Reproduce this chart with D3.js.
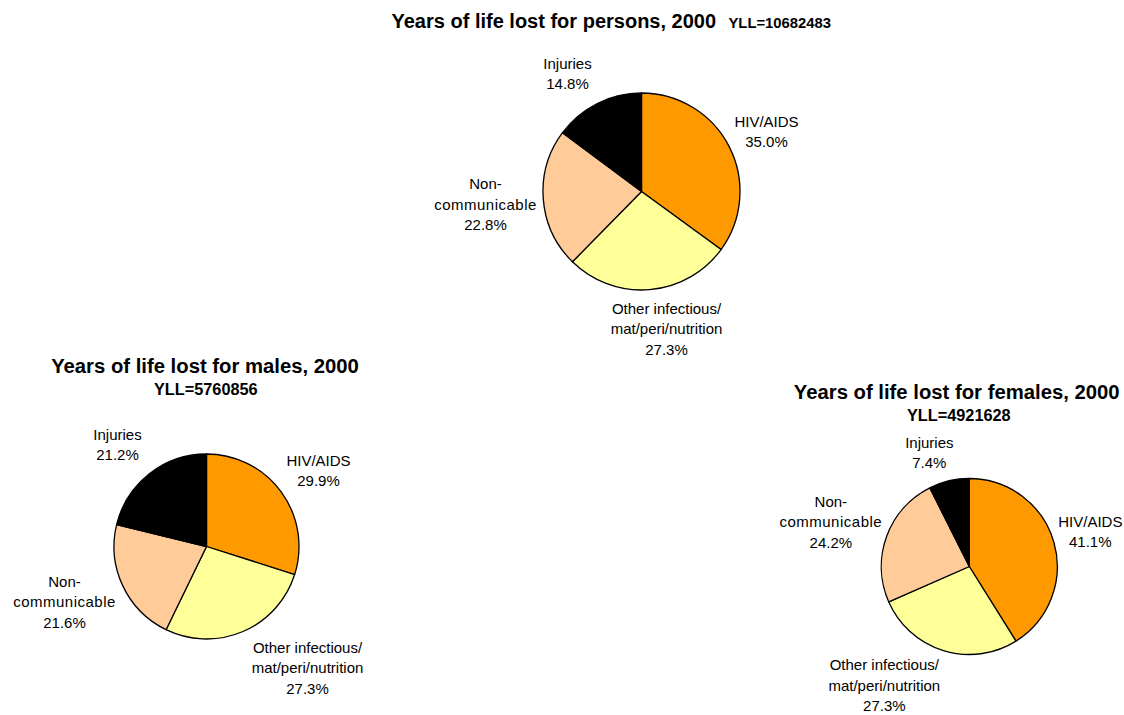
<!DOCTYPE html>
<html>
<head>
<meta charset="utf-8">
<script src="https://cdn.jsdelivr.net/npm/d3@7"></script>
<style>
  html, body { margin: 0; padding: 0; background: #fff; }
  svg { display: block; font-family: "Liberation Sans", Arial, sans-serif; }
</style>
</head>
<body>
<svg id="chart" width="1124" height="715"></svg>
<script>
// ---- data ----
const categories = ["HIV/AIDS", "Other infectious/\nmat/peri/nutrition", "Non-\ncommunicable", "Injuries"];
const personsValues = [35.0, 27.3, 22.8, 14.8];
const malesValues = [29.9, 27.3, 21.6, 21.2];
const femalesValues = [41.1, 27.3, 24.2, 7.4];
const personsTitle = "Years of life lost for persons, 2000";
const personsYLL = "YLL=10682483";
const malesTitle = "Years of life lost for males, 2000";
const malesYLL = "YLL=5760856";
const femalesTitle = "Years of life lost for females, 2000";
const femalesYLL = "YLL=4921628";
const colors = ["#FF9900", "#FFFF99", "#FFCC99", "#000000"];

// ---- layout ----
const lineH = 20.7;
const charts = [
  { values: personsValues, cx: 641.5, cy: 191.5, r: 98.5,
    labels: [[125, -65], [25, 122], [-156, -2.5], [-74, -123]] },
  { values: malesValues, cx: 206.5, cy: 546.5, r: 92.5,
    labels: [[112, -81], [101, 106], [-142, 40], [-89, -107]] },
  { values: femalesValues, cx: 969.3, cy: 566.5, r: 88,
    labels: [[121, -40], [-85, 103.5], [-138.5, -60], [-40, -119]] }
];

const svg = d3.select("#chart");
const pie = d3.pie().sort(null).value(d => d);

charts.forEach(c => {
  const g = svg.append("g").attr("transform", `translate(${c.cx},${c.cy})`);
  const arc = d3.arc().innerRadius(0).outerRadius(c.r);
  const arcs = pie(c.values);
  g.selectAll("path").data(arcs).join("path")
    .attr("d", arc)
    .attr("fill", (d, i) => colors[i])
    .attr("stroke", "#000")
    .attr("stroke-width", 1.3)
    .attr("stroke-linejoin", "round");

  arcs.forEach((d, i) => {
    const lines = categories[i].split("\n").concat([d.data.toFixed(1) + "%"]);
    const t = g.append("text")
      .attr("text-anchor", "middle")
      .attr("font-size", 15)
      .attr("fill", "#000");
    lines.forEach((ln, k) => {
      t.append("tspan")
        .attr("x", c.labels[i][0])
        .attr("y", c.labels[i][1] + k * lineH)
        .attr("letter-spacing", ln === "communicable" ? 0.5 : 0)
        .text(ln);
    });
  });
});

// ---- titles ----
svg.append("text").attr("x", 391.5).attr("y", 28)
  .attr("font-weight", "bold").attr("font-size", 20).attr("fill", "#000")
  .text(personsTitle);
svg.append("text").attr("x", 728.5).attr("y", 28)
  .attr("font-weight", "bold").attr("font-size", 14.8).attr("fill", "#000")
  .text(personsYLL);

svg.append("text").attr("x", 205).attr("y", 372.5).attr("text-anchor", "middle")
  .attr("font-weight", "bold").attr("font-size", 20.3).text(malesTitle);
svg.append("text").attr("x", 205.8).attr("y", 394.5).attr("text-anchor", "middle")
  .attr("font-weight", "bold").attr("font-size", 16.3).text(malesYLL);

svg.append("text").attr("x", 956.7).attr("y", 398.5).attr("text-anchor", "middle")
  .attr("font-weight", "bold").attr("font-size", 20.3).text(femalesTitle);
svg.append("text").attr("x", 958.8).attr("y", 420.5).attr("text-anchor", "middle")
  .attr("font-weight", "bold").attr("font-size", 16.3).text(femalesYLL);
</script>
</body>
</html>
